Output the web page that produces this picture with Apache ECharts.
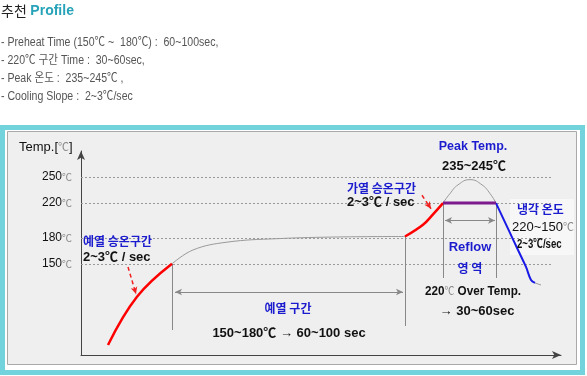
<!DOCTYPE html>
<html>
<head>
<meta charset="utf-8">
<script src="https://cdn.jsdelivr.net/npm/echarts@6/dist/echarts.min.js"></script>
<style>
  html, body { margin: 0; padding: 0; background: #fff; }
  #chart { width: 587px; height: 376px; }
</style>
</head>
<body>
<div id="chart"></div>
<script>
// reference levels (deg C) shown on the y axis
const levelTemps = [150, 180, 220, 250];

// time is in schematic units (not to scale), temps in deg C
const preheatRampTime = [13.5, 28, 45.5];
const preheatRampTemp = [56.5, 112, 150];
const soakTime = [45.5, 56, 73, 98, 129.5, 162];
const soakTemp = [150, 166, 175, 179, 181, 181.5];
const reflowRampTime = [162, 171, 176, 181];
const reflowRampTemp = [181.5, 195, 207, 220];
const peakTime = [181, 184.5, 188.5, 194.5, 200.5, 204.5, 207.5];
const peakTemp = [220, 231, 241, 247, 241, 231, 220];
const overTime = [181, 207.5];
const overTemp = [220, 220];
const coolTime = [207.5, 213.5, 218.5, 222.5, 225, 227];
const coolTemp = [220, 190.5, 166, 146.4, 131.4, 128];
const tailTime = [227, 230];
const tailTemp = [128, 125.6];

// zone markers
const preheatStart = 45.5, preheatEnd = 162, reflowStart = 181, reflowEnd = 207.5;

const pairs = (xs, ys) => xs.map((x, i) => [x, ys[i]]);

const F = "'Liberation Sans', 'Noto Sans CJK KR', sans-serif";
const K = "'Noto Sans CJK KR', sans-serif";
const BLUE = '#1c1ccf';

let chart = echarts.init(document.getElementById('chart'));

function txt(x, y, text, opt) {
    opt = opt || {};
    return {
        type: 'text', x: x, y: y, z: 100, scaleX: opt.sx || 1,
        style: Object.assign({
            text: text, fill: '#111', fontSize: 13, fontWeight: 'bold', fontFamily: F,
            align: opt.align || 'left', verticalAlign: 'middle'
        }, opt.style || {})
    };
}
const unit = { fill: '#888', fontSize: 11, fontFamily: K, fontWeight: 'normal' };
const bullet = { fontWeight: 'normal', fontSize: 12, fill: '#555' };

let levelLines = levelTemps.map(t => [
    { coord: [0, t], label: { formatter: '{n|' + t + '}{c|℃}' } },
    { coord: [235.5, t] }
]);

chart.setOption({
    animation: false,
    grid: { left: 81, right: 26, top: 151, bottom: 21 },
    xAxis: {
        type: 'value', min: 0, max: 240,
        axisLine: { lineStyle: { color: '#444', width: 1 }, symbol: ['none', 'arrow'], symbolSize: [6, 9] },
        axisTick: { show: false }, axisLabel: { show: false }, splitLine: { show: false }
    },
    yAxis: {
        type: 'value', min: 45, max: 280,
        axisLine: { show: true, lineStyle: { color: '#444', width: 1 }, symbol: ['none', 'arrow'], symbolSize: [6, 9] },
        axisTick: { show: false }, axisLabel: { show: false }, splitLine: { show: false }
    },
    graphic: [
        { type: 'rect', z: -100, shape: { x: 2.5, y: 127.5, width: 580, height: 245 },
          style: { fill: 'none', stroke: '#72d3dd', lineWidth: 5 } },
        { type: 'rect', z: -99, shape: { x: 7.5, y: 131.5, width: 569, height: 233 },
          style: { fill: '#efefef', stroke: '#a9a9a9', lineWidth: 1 } },
        { type: 'rect', z: 1, shape: { x: 510, y: 199, width: 64, height: 56 },
          style: { fill: '#f7f7f7' } },

        txt(1, 11, '{a|추천} {b|Profile}', { style: { rich: {
            a: { fontSize: 14, fontFamily: K, fontWeight: 'normal', fill: '#222' },
            b: { fontSize: 14, fontFamily: F, fontWeight: 'bold', fill: '#26a3b8' } } } }),
        txt(1, 43, '- Preheat Time (150℃ ~  180℃) :  60~100sec,', { sx: 0.88, style: bullet }),
        txt(1, 61, '- 220℃ 구간 Time :  30~60sec,', { sx: 0.88, style: bullet }),
        txt(1, 79, '- Peak 온도 :  235~245℃ ,', { sx: 0.88, style: bullet }),
        txt(1, 97, '- Cooling Slope :  2~3℃/sec', { sx: 0.88, style: bullet }),

        txt(19, 147, '{a|Temp.[}{b|℃}{a|]}', { style: { rich: {
            a: { fontSize: 13, fontFamily: F, fontWeight: 'normal', fill: '#111' }, b: unit } } }),

        txt(83, 241, '예열 승온구간', { style: { fill: BLUE, fontSize: 12, fontFamily: K } }),
        txt(83, 257, '2~3℃ / sec'),
        txt(288, 308, '예열 구간', { align: 'center', style: { fill: BLUE, fontSize: 12, fontFamily: K } }),
        txt(289, 333, '150~180℃ → 60~100 sec', { align: 'center' }),
        txt(473, 147, 'Peak Temp.', { align: 'center', style: { fill: BLUE, fontSize: 12.5 } }),
        txt(474, 166, '235~245℃', { align: 'center' }),
        txt(347, 188, '가열 승온구간', { style: { fill: BLUE, fontSize: 12, fontFamily: K } }),
        txt(347, 202, '2~3℃ / sec'),
        txt(517, 209, '냉각 온도', { style: { fill: BLUE, fontSize: 12, fontFamily: K } }),
        txt(512, 227, '{a|220~150}{b|℃}', { style: { rich: {
            a: { fontSize: 13, fontFamily: F, fontWeight: 'normal', fill: '#111' }, b: unit } } }),
        txt(517, 245, '2~3℃/sec', { sx: 0.8, style: { fontSize: 12 } }),
        txt(470, 247, 'Reflow', { align: 'center', style: { fill: BLUE, fontSize: 13 } }),
        txt(470, 268, '영 역', { align: 'center', style: { fill: BLUE, fontSize: 12, fontFamily: K } }),
        txt(473, 291, '{a|220}{b|℃}{a| Over Temp.}', { align: 'center', sx: 0.9, style: { rich: {
            a: { fontSize: 13, fontFamily: F, fontWeight: 'bold', fill: '#111' }, b: unit } } }),
        txt(477, 311, '→ 30~60sec', { align: 'center' })
    ],
    series: [
        {
            name: 'levels', type: 'line', data: [], z: 0, silent: true,
            markLine: {
                silent: true, symbol: ['none', 'none'], animation: false,
                lineStyle: { color: '#9a9a9a', type: [2, 2], width: 1 },
                label: {
                    show: true, position: 'start', distance: 9,
                    rich: {
                        n: { fontSize: 12, fontFamily: F, color: '#111' },
                        c: { fontSize: 10, fontFamily: K, color: '#888' }
                    }
                },
                data: levelLines
            }
        },
        {
            name: 'markers', type: 'line', data: [], z: 2, silent: true,
            markLine: {
                silent: true, animation: false, symbol: ['none', 'none'],
                label: { show: false },
                lineStyle: { color: '#888', type: 'solid', width: 1 },
                data: [
                    [{ coord: [preheatStart, 150] }, { coord: [preheatStart, 73.8] }],
                    [{ coord: [preheatEnd, 181.5] }, { coord: [preheatEnd, 78.4] }],
                    [{ coord: [reflowStart, 220] }, { coord: [reflowStart, 133.7] }],
                    [{ coord: [reflowEnd, 220] }, { coord: [reflowEnd, 133.7] }],
                    [{ coord: [47, 117.6], symbol: 'arrow', symbolSize: [5, 7] }, { coord: [161, 117.6], symbol: 'arrow', symbolSize: [5, 7] }],
                    [{ coord: [182, 200], symbol: 'arrow', symbolSize: [5, 7] }, { coord: [207, 200], symbol: 'arrow', symbolSize: [5, 7] }],
                    [{ coord: [23.5, 146.4], lineStyle: { color: '#f02020', type: [4, 3], width: 1.5 } },
                     { coord: [27.5, 115.3], symbol: 'arrow', symbolSize: [5, 7] }],
                    [{ coord: [170.5, 229], lineStyle: { color: '#f02020', type: [4, 3], width: 1.5 } },
                     { coord: [175, 213.5], symbol: 'arrow', symbolSize: [5, 7] }]
                ]
            }
        },
        { name: 'preheat ramp', type: 'line', z: 5, smooth: 0.4, symbol: 'none',
          lineStyle: { color: '#f00', width: 2.5 }, data: pairs(preheatRampTime, preheatRampTemp) },
        { name: 'soak', type: 'line', z: 4, smooth: 0.4, symbol: 'none',
          lineStyle: { color: '#9a9a9a', width: 1 }, data: pairs(soakTime, soakTemp) },
        { name: 'reflow ramp', type: 'line', z: 5, smooth: 0.4, symbol: 'none',
          lineStyle: { color: '#f00', width: 2.5 }, data: pairs(reflowRampTime, reflowRampTemp) },
        { name: 'peak', type: 'line', z: 4, smooth: 0.5, symbol: 'none',
          lineStyle: { color: '#9a9a9a', width: 1 }, data: pairs(peakTime, peakTemp) },
        { name: 'over 220', type: 'line', z: 6, symbol: 'none',
          lineStyle: { color: '#7d1a8e', width: 3 }, data: pairs(overTime, overTemp) },
        { name: 'cooling', type: 'line', z: 5, smooth: 0.4, symbol: 'none',
          lineStyle: { color: '#1a1ae6', width: 2 }, data: pairs(coolTime, coolTemp) },
        { name: 'tail', type: 'line', z: 4, symbol: 'none',
          lineStyle: { color: '#9a9a9a', width: 1 }, data: pairs(tailTime, tailTemp) }
    ]
});
</script>
</body>
</html>
